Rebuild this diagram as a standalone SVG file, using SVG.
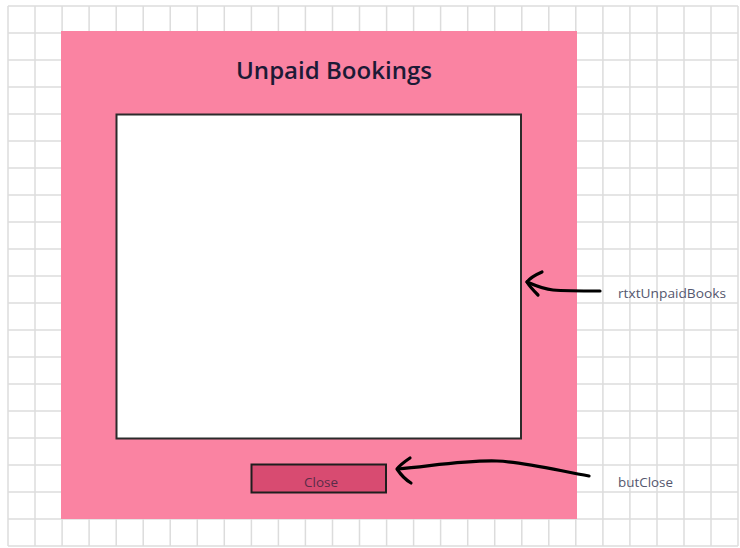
<svg xmlns="http://www.w3.org/2000/svg" width="740" height="548" viewBox="0 0 740 548">
  <style>
    .grid line { stroke: #dcdcdc; stroke-width: 1.5; }
    .title { font-family: "Open Sans", "Liberation Sans", sans-serif; font-size: 24px; font-weight: 600; fill: #1d1a36; }
    .label { font-family: "Open Sans", "Liberation Sans", sans-serif; font-size: 12.5px; fill: #55576e; }
    .btntext { font-family: "Open Sans", "Liberation Sans", sans-serif; font-size: 12px; fill: #5a2c48; }
    .ink { fill: none; stroke: #000; stroke-width: 3.2; stroke-linecap: round; stroke-linejoin: round; }
  </style>

  <!-- background sheet grid -->
  <rect x="0" y="0" width="740" height="548" fill="#ffffff"/>
  <g class="grid" id="grid">
    <line x1="8" y1="6" x2="8" y2="546"/>
    <line x1="35" y1="6" x2="35" y2="546"/>
    <line x1="62.1" y1="6" x2="62.1" y2="546"/>
    <line x1="89.1" y1="6" x2="89.1" y2="546"/>
    <line x1="116.2" y1="6" x2="116.2" y2="546"/>
    <line x1="143.2" y1="6" x2="143.2" y2="546"/>
    <line x1="170.2" y1="6" x2="170.2" y2="546"/>
    <line x1="197.3" y1="6" x2="197.3" y2="546"/>
    <line x1="224.3" y1="6" x2="224.3" y2="546"/>
    <line x1="251.4" y1="6" x2="251.4" y2="546"/>
    <line x1="278.4" y1="6" x2="278.4" y2="546"/>
    <line x1="305.4" y1="6" x2="305.4" y2="546"/>
    <line x1="332.5" y1="6" x2="332.5" y2="546"/>
    <line x1="359.5" y1="6" x2="359.5" y2="546"/>
    <line x1="386.6" y1="6" x2="386.6" y2="546"/>
    <line x1="413.6" y1="6" x2="413.6" y2="546"/>
    <line x1="440.6" y1="6" x2="440.6" y2="546"/>
    <line x1="467.7" y1="6" x2="467.7" y2="546"/>
    <line x1="494.7" y1="6" x2="494.7" y2="546"/>
    <line x1="521.8" y1="6" x2="521.8" y2="546"/>
    <line x1="548.8" y1="6" x2="548.8" y2="546"/>
    <line x1="575.8" y1="6" x2="575.8" y2="546"/>
    <line x1="602.9" y1="6" x2="602.9" y2="546"/>
    <line x1="629.9" y1="6" x2="629.9" y2="546"/>
    <line x1="657" y1="6" x2="657" y2="546"/>
    <line x1="684" y1="6" x2="684" y2="546"/>
    <line x1="711" y1="6" x2="711" y2="546"/>
    <line x1="738" y1="6" x2="738" y2="546"/>
    <line x1="8" y1="6" x2="738" y2="6"/>
    <line x1="8" y1="33" x2="738" y2="33"/>
    <line x1="8" y1="60" x2="738" y2="60"/>
    <line x1="8" y1="87" x2="738" y2="87"/>
    <line x1="8" y1="114" x2="738" y2="114"/>
    <line x1="8" y1="141" x2="738" y2="141"/>
    <line x1="8" y1="168" x2="738" y2="168"/>
    <line x1="8" y1="195" x2="738" y2="195"/>
    <line x1="8" y1="222" x2="738" y2="222"/>
    <line x1="8" y1="249" x2="738" y2="249"/>
    <line x1="8" y1="276" x2="738" y2="276"/>
    <line x1="8" y1="303" x2="738" y2="303"/>
    <line x1="8" y1="330" x2="738" y2="330"/>
    <line x1="8" y1="357" x2="738" y2="357"/>
    <line x1="8" y1="384" x2="738" y2="384"/>
    <line x1="8" y1="411" x2="738" y2="411"/>
    <line x1="8" y1="438" x2="738" y2="438"/>
    <line x1="8" y1="465" x2="738" y2="465"/>
    <line x1="8" y1="492" x2="738" y2="492"/>
    <line x1="8" y1="519" x2="738" y2="519"/>
    <line x1="8" y1="546" x2="738" y2="546"/>
  </g>

  <!-- form window -->
  <g id="form">
    <rect x="61" y="31" width="516" height="488" fill="#fa83a2"/>
    <text class="title" x="236" y="79" textLength="196" lengthAdjust="spacingAndGlyphs">Unpaid Bookings</text>
  </g>

  <!-- rich text box -->
  <g id="rtxtUnpaidBooks">
    <rect x="116.5" y="114.5" width="404.5" height="324" fill="#ffffff" stroke="#2b2b2b" stroke-width="2"/>
  </g>

  <!-- close button -->
  <g id="butClose">
    <rect x="251.5" y="464.5" width="134.5" height="28" fill="#d84b71" stroke="#1e1e1e" stroke-width="2"/>
    <text class="btntext" x="304" y="487" textLength="34" lengthAdjust="spacingAndGlyphs">Close</text>
  </g>

  <!-- callout labels -->
  <g id="label-rtxt">
    <text class="label" x="618" y="298" textLength="108" lengthAdjust="spacingAndGlyphs">rtxtUnpaidBooks</text>
  </g>
  <g id="label-but">
    <text class="label" x="618" y="487" textLength="55" lengthAdjust="spacingAndGlyphs">butClose</text>
  </g>

  <!-- hand-drawn pointer arrows -->
  <g id="connectors">
    <path class="ink" d="M600,291 C585,291 565,291 553,290 C542,289 534,285 527,282"/>
    <path class="ink" d="M542,272 C535,275 530,278 527,282 C530,287 534,291 538,295"/>
    <path class="ink" d="M589,476 C560,471 525,462 497,461 C465,460 432,466 398,469"/>
    <path class="ink" d="M410,458 C404,462 400,465 397,469 C401,475 406,480 411,483"/>
  </g>
</svg>
